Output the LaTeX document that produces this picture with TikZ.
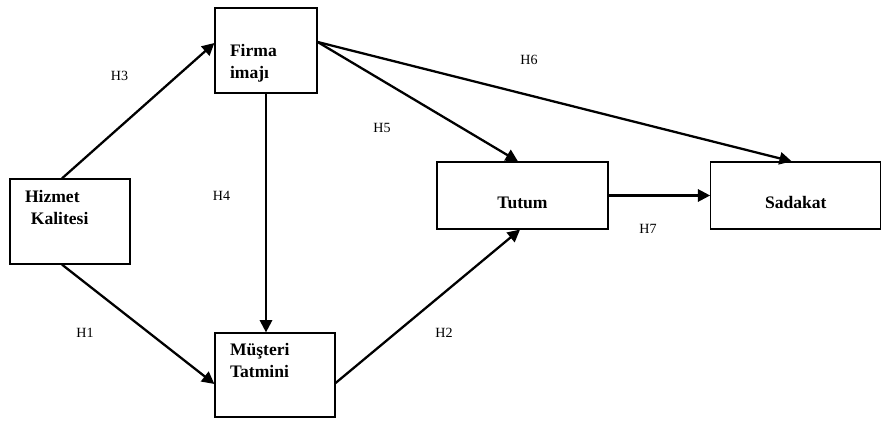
\documentclass[tikz,border=0pt]{standalone}
\usepackage{fontspec}
\setmainfont{Liberation Serif}
\usetikzlibrary{arrows.meta}

\tikzset{
  box/.style={draw, line width=0.7pt, inner sep=0pt, minimum height=1.7cm,
    font=\fontsize{10}{12.5}\selectfont\bfseries},
  lbox/.style={box, align=left, inner xsep=0.3cm},
  cbox/.style={box, align=center, text height=15pt, text depth=0pt},
  lbl/.style={font=\fontsize{8}{10}\selectfont, inner sep=0pt},
  hyp/.style={->, line width=1.3pt},
  >={Triangle[length=7pt,width=7pt]}
}

\begin{document}
\begin{tikzpicture}[x=0.02cm,y=-0.02cm]
      \useasboundingbox (0,0) rectangle (882,421);

      \node[lbox,text width=1.8cm] (1) at (70,221.5) {Hizmet\\\ Kalitesi\\\strut};
      \node[lbox,text width=1.44cm] (2) at (266,50.5) {\strut\\Firma\\imajı};
      \node[lbox,text width=1.8cm,minimum height=1.68cm] (3) at (275,375) {Müşteri\\Tatmini\\\strut};
      \node[cbox,minimum width=3.42cm,minimum height=1.34cm] (4) at (522.5,195.5) {Tutum};
      \node[cbox,minimum width=3.4cm,minimum height=1.34cm] (5) at (795.75,195.5) {Sadakat};

      \draw[hyp] ([xshift=-0.16cm]1.north) -- ([yshift=0.15cm]2.west) node[lbl] at (119.5,76) {H3};
      \draw[hyp] ([xshift=-0.16cm]1.south) -- ([yshift=-0.18cm]3.west) node[lbl] at (85,333) {H1};
      \draw[hyp] (2.south) -- (2.south |- 3.north) node[lbl] at (221.5,196) {H4};
      \draw[hyp] ([yshift=0.17cm]2.east) -- ([xshift=-0.09cm]4.north) node[lbl] at (382,128) {H5};
      \draw[hyp] ([yshift=0.17cm]2.east) -- ([xshift=-0.08cm]5.north) node[lbl] at (529,59.5) {H6};
      \draw[hyp] ([yshift=-0.16cm]3.east) -- ([xshift=-0.05cm]4.south) node[lbl] at (444,333) {H2};
      \draw[hyp] (4.east) -- (5.west) node[lbl] at (648,229) {H7};
    \end{tikzpicture}
\end{document}
